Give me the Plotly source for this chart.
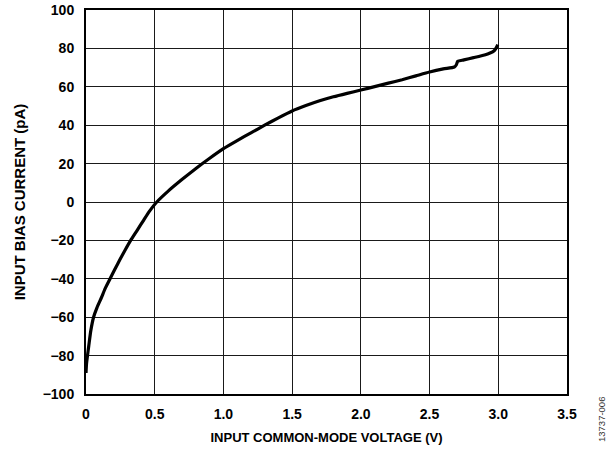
import plotly.graph_objects as go

# Data (input common-mode voltage V, input bias current pA)
voltage = [0.000, 0.004, 0.010, 0.020, 0.035, 0.055, 0.080, 0.111, 0.140, 0.175,
           0.210, 0.247, 0.285, 0.325, 0.370, 0.420, 0.465, 0.515, 0.600, 0.700,
           0.800, 0.900, 1.000, 1.100, 1.200, 1.300, 1.400, 1.500, 1.600, 1.700,
           1.800, 1.900, 2.000, 2.100, 2.200, 2.300, 2.400, 2.500, 2.600, 2.680,
           2.695, 2.705, 2.750, 2.820, 2.900, 2.940, 2.970, 2.985, 2.996]
bias_current = [-89.0, -84.0, -80.5, -75.0, -67.0, -60.0, -55.0, -50.0, -45.0, -40.0,
                -35.0, -30.0, -25.0, -20.0, -15.0, -9.4, -4.5, 0.0, 5.8, 11.8,
                17.5, 22.8, 27.8, 32.0, 36.0, 40.0, 43.8, 47.4, 50.2, 52.7,
                54.8, 56.6, 58.3, 60.1, 61.9, 63.7, 65.7, 67.7, 69.3, 70.3,
                71.5, 73.3, 74.0, 75.2, 76.6, 77.6, 78.8, 80.3, 82.0]

x_tickvals = [0, 0.5, 1.0, 1.5, 2.0, 2.5, 3.0, 3.5]
x_ticktext = ["0", "0.5", "1.0", "1.5", "2.0", "2.5", "3.0", "3.5"]
y_tickvals = [-100, -80, -60, -40, -20, 0, 20, 40, 60, 80, 100]
y_ticktext = ["−100", "−80", "−60", "−40", "−20", "0", "20", "40", "60", "80", "100"]

font_family = "Liberation Sans, Arial, sans-serif"

fig = go.Figure()
fig.add_trace(go.Scatter(
    x=voltage, y=bias_current, mode="lines",
    line=dict(color="black", width=3.2, shape="spline", smoothing=0.6),
    showlegend=False, hoverinfo="skip",
))

fig.update_layout(
    width=616, height=452,
    margin=dict(l=86, r=49, t=10, b=58),
    paper_bgcolor="white", plot_bgcolor="white",
    font=dict(family=font_family, color="black"),
)

fig.update_xaxes(
    range=[0, 3.5], tickvals=x_tickvals,
    ticktext=["<b>%s</b>" % t for t in x_ticktext],
    showgrid=True, gridcolor="#1a1a1a", gridwidth=1.4,
    showline=True, linecolor="black", linewidth=2, mirror=True,
    zeroline=False, ticks="", ticklabelstandoff=6, automargin=False,
    tickfont=dict(size=14, family=font_family),
    title=dict(text="<b>INPUT COMMON-MODE VOLTAGE (V)</b>", font=dict(size=13), standoff=12),
)
fig.update_yaxes(
    range=[-100, 100], tickvals=y_tickvals,
    ticktext=["<b>%s</b>" % t for t in y_ticktext],
    showgrid=True, gridcolor="#1a1a1a", gridwidth=1.4,
    showline=True, linecolor="black", linewidth=2, mirror=True,
    zeroline=False, ticks="", ticklabelstandoff=7, automargin=False,
    tickfont=dict(size=14, family=font_family),
    title=dict(text="<b>INPUT BIAS CURRENT (pA)</b>", font=dict(size=15), standoff=13),
)

fig.add_annotation(
    text="13737-006", xref="paper", yref="paper",
    x=1.0, y=0.0, xshift=34, yshift=-26, textangle=-90,
    showarrow=False, font=dict(size=9.5, color="#333333", family=font_family),
    xanchor="center", yanchor="middle",
)

fig.write_html("out.html")
